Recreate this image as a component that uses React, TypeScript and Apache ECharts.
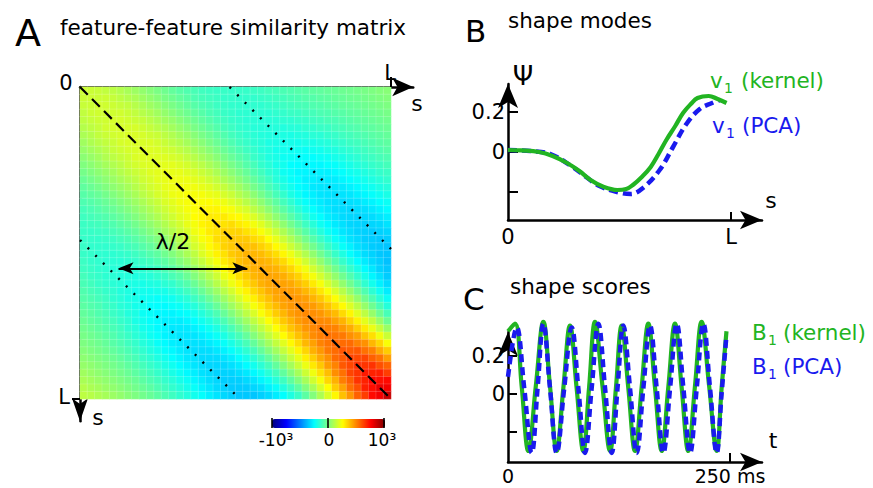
import React, { useEffect, useRef } from 'react';
import * as echarts from 'echarts';

const FONT = 'DejaVu Sans';
const GREEN = '#22b422';
const BLUE = '#1a1aee';

// ---------- Panel A: similarity matrix (42 x 42 cells) ----------
const matrixSize = 42;
const axisCells = 45;
const valueScale = 1000;
// level on the main diagonal, indexed by floor((row + col) / 2)
const diagonalLevel = [
  0.15, 0.15, 0.16, 0.16, 0.17, 0.17, 0.18, 0.18, 0.19, 0.19,
  0.20, 0.21, 0.22, 0.23, 0.24, 0.25, 0.27, 0.29, 0.31, 0.34,
  0.36, 0.38, 0.40, 0.41, 0.42, 0.43, 0.44, 0.45, 0.46, 0.47,
  0.48, 0.49, 0.51, 0.53, 0.55, 0.58, 0.62, 0.66, 0.70, 0.74,
  0.79, 0.86,
];
// relative profile across diagonals, offset (col - row) from -41 to 41
const offsetProfile = [
  0.34, 0.29, 0.24, 0.19, 0.14, 0.09, 0.04, -0.01, -0.06, -0.11,
  -0.17, -0.23, -0.29, -0.35, -0.41, -0.47, -0.53, -0.59, -0.64, -0.68,
  -0.71, -0.73, -0.73, -0.71, -0.67, -0.61, -0.54, -0.45, -0.35, -0.24,
  -0.12, 0.01, 0.14, 0.27, 0.40, 0.53, 0.65, 0.76, 0.85, 0.93, 0.98,
  1.0,
  0.98, 0.93, 0.85, 0.75, 0.63, 0.50, 0.36, 0.22, 0.08, -0.06,
  -0.19, -0.31, -0.42, -0.52, -0.60, -0.66, -0.70, -0.73, -0.74, -0.74,
  -0.72, -0.69, -0.65, -0.60, -0.55, -0.50, -0.45, -0.40, -0.35, -0.31,
  -0.27, -0.23, -0.19, -0.16, -0.13, -0.10, -0.07, -0.04, -0.01, 0.02, 0.05,
];
const colorbarTicks = [-1000, 0, 1000];
const colorbarLabels = ['-10³', '0', '10³'];
const jet = ['#00007f', '#0000ff', '#007fff', '#00ffff', '#7fff7f', '#ffff00', '#ff7f00', '#ff0000', '#7f0000'];

// guide lines in cell units (row counted from the top)
const diagonalLine = [[0, 0], [42, 42]];
const upperBandLine = [[20.2, 0], [42, 21.8]];
const lowerBandLine = [[0, 20.6], [21.6, 42]];
const halfWaveArrow = [[5.2, 24.4], [22.6, 24.4]];

// ---------- Panel B: shape modes ----------
const modeKernelS = [0, 0.06, 0.14, 0.2, 0.265, 0.32, 0.37, 0.43, 0.49, 0.53, 0.56, 0.6, 0.64, 0.675, 0.71, 0.75, 0.785, 0.82, 0.85, 0.9, 0.94, 0.98];
const modeKernelPsi = [0.01, 0.008, 0, -0.02, -0.055, -0.095, -0.14, -0.175, -0.19, -0.185, -0.165, -0.125, -0.075, -0.01, 0.06, 0.13, 0.195, 0.24, 0.27, 0.28, 0.265, 0.245];
const modePcaS = [0, 0.1, 0.19, 0.29, 0.35, 0.41, 0.49, 0.55, 0.605, 0.68, 0.74, 0.8, 0.86, 0.915, 0.95];
const modePcaPsi = [0.01, 0.005, -0.01, -0.075, -0.125, -0.17, -0.2, -0.21, -0.18, -0.09, 0.025, 0.14, 0.215, 0.245, 0.26];

// ---------- Panel C: shape scores ----------
const scoreKernelT = [0, 7.9, 15.4, 22.9, 31.3, 39.8, 47.3, 54.8, 62.3, 69.8, 77.3, 84.8, 91.4, 97.9, 106.4, 114.9, 121.5, 128, 135.5, 143, 150.5, 158, 165.5, 173.1, 180.5, 188, 195.5, 203, 210.5, 218, 226.5, 235, 240.5, 246];
const scoreKernelB = [0.33, 0.37, 0.04, -0.3, 0.04, 0.38, 0.04, -0.3, 0.03, 0.36, 0.03, -0.3, 0.04, 0.38, 0.04, -0.3, 0.03, 0.36, 0.03, -0.3, 0.035, 0.37, 0.035, -0.3, 0.035, 0.37, 0.035, -0.3, 0.04, 0.38, 0.04, -0.3, 0.03, 0.33];
const scorePcaT = [0, 9.8, 18.3, 26.7, 33.3, 39.8, 47.3, 54.8, 63.3, 71.7, 79.2, 86.7, 94.2, 101.7, 109.3, 116.8, 123.3, 129.8, 137.4, 144.9, 152.4, 159.9, 167.4, 174.9, 182.5, 190, 197.5, 205, 212.5, 220, 227.5, 235, 240.5, 246];
const scorePcaB = [0.09, 0.35, 0.03, -0.31, 0.03, 0.37, 0.03, -0.31, 0.03, 0.35, 0.03, -0.31, 0.03, 0.37, 0.03, -0.31, 0.03, 0.36, 0.03, -0.31, 0.03, 0.36, 0.03, -0.31, 0.03, 0.37, 0.03, -0.31, 0.03, 0.37, 0.03, -0.31, 0.0, 0.31];

const zip = (a: number[], b: number[]) => a.map((v, i) => [v, b[i]]);

function buildMatrix() {
  const out: number[][] = [];
  for (let r = 0; r < matrixSize; r++) {
    for (let c = 0; c < matrixSize; c++) {
      const level = diagonalLevel[Math.floor((r + c) / 2)];
      const prof = offsetProfile[c - r + 41];
      // y category counted from the bottom: top row sits at the last category
      out.push([c, axisCells - 1 - r, Math.round(level * prof * valueScale)]);
    }
  }
  return out;
}

const txt = (text: string, x: number, y: number, size: number, fill = '#000', align = 'left') => ({
  type: 'text', x, y, z: 100, silent: true,
  style: { text, fontSize: size, fontFamily: FONT, fill, align, verticalAlign: 'middle' },
});
const seg = (x1: number, y1: number, x2: number, y2: number, w = 2) => ({
  type: 'line', z: 100, silent: true, shape: { x1, y1, x2, y2 }, style: { stroke: '#000', lineWidth: w },
});

export default function App() {
  const ref = useRef<HTMLDivElement>(null);
  useEffect(() => {
    if (!ref.current) return;
    const chart = echarts.init(ref.current, undefined, { renderer: 'svg' });
    const axisLineStyle = { color: '#000', width: 2.5 };
    const cats = Array.from({ length: axisCells }, (_, i) => String(i));
    const labelStyle = { fontSize: 21, fontFamily: FONT, color: '#000' };

    const option: any = {
      animation: false,
      grid: [
        { left: 80, top: 87, width: 7.405 * axisCells, height: 7.43 * axisCells, outerBoundsMode: 'none' },
        { left: 80, top: 87, width: 7.405 * axisCells, height: 7.43 * axisCells, outerBoundsMode: 'none' },
        { left: 508, top: 84, width: 254, height: 136, outerBoundsMode: 'none' },
        { left: 508, top: 332, width: 254, height: 130, outerBoundsMode: 'none' },
      ],
      xAxis: [
        {
          type: 'category', gridIndex: 0, position: 'top', data: cats,
          axisLine: { show: true, onZero: false, symbol: ['none', 'arrow'], symbolSize: [14, 21], lineStyle: axisLineStyle },
          axisTick: { show: false }, axisLabel: { show: false }, splitLine: { show: false },
        },
        { type: 'value', gridIndex: 1, min: 0, max: axisCells, show: false },
        {
          type: 'value', gridIndex: 2, min: 0, max: 1.139,
          axisLine: { show: true, onZero: false, symbol: ['none', 'arrow'], symbolSize: [14, 22], lineStyle: axisLineStyle },
          axisTick: { show: true, inside: true, length: 8, customValues: [1], lineStyle: { color: '#000', width: 2 } },
          axisLabel: { ...labelStyle, margin: 6, customValues: [0, 1], formatter: (v: number) => (v === 0 ? '0' : 'L') },
          splitLine: { show: false },
        },
        {
          type: 'value', gridIndex: 3, min: 0, max: 286,
          axisLine: { show: true, onZero: false, symbol: ['none', 'arrow'], symbolSize: [14, 22], lineStyle: axisLineStyle },
          axisTick: { show: true, inside: true, length: 9, customValues: [250], lineStyle: { color: '#000', width: 2 } },
          axisLabel: { ...labelStyle, fontSize: 19, margin: 4, customValues: [0, 250], formatter: (v: number) => (v === 0 ? '0' : '250 ms') },
          splitLine: { show: false },
        },
      ],
      yAxis: [
        {
          type: 'category', gridIndex: 0, data: cats,
          axisLine: { show: true, onZero: false, symbol: ['arrow', 'none'], symbolSize: [12, 23], lineStyle: axisLineStyle },
          axisTick: { show: false }, axisLabel: { show: false }, splitLine: { show: false },
        },
        { type: 'value', gridIndex: 1, min: 0, max: axisCells, inverse: true, show: false },
        {
          type: 'value', gridIndex: 2, min: -0.34, max: 0.34,
          axisLine: { show: true, onZero: false, symbol: ['none', 'arrow'], symbolSize: [15, 24], lineStyle: axisLineStyle },
          axisTick: { show: true, inside: true, length: 10, customValues: [-0.2, 0, 0.2], lineStyle: { color: '#000', width: 2 } },
          axisLabel: { ...labelStyle, margin: 3, customValues: [0, 0.2], formatter: (v: number) => (Math.abs(v) < 1e-9 ? '0' : '0.2') },
          splitLine: { show: false },
        },
        {
          type: 'value', gridIndex: 3, min: -0.358, max: 0.326,
          axisLine: { show: true, onZero: false, symbol: ['none', 'arrow'], symbolSize: [15, 24], lineStyle: axisLineStyle },
          axisTick: { show: true, inside: true, length: 9, customValues: [-0.2, 0, 0.2], lineStyle: { color: '#000', width: 2 } },
          axisLabel: { ...labelStyle, margin: 3, customValues: [0, 0.2], formatter: (v: number) => (Math.abs(v) < 1e-9 ? '0' : '0.2') },
          splitLine: { show: false },
        },
      ],
      visualMap: {
        type: 'continuous', seriesIndex: 0, min: -valueScale, max: valueScale,
        orient: 'horizontal', left: 272, top: 419, itemWidth: 9, itemHeight: 113, padding: 0,
        calculable: false, realtime: false, text: null, showLabel: false,
        inRange: { color: jet },
      },
      series: [
        {
          type: 'heatmap', xAxisIndex: 0, yAxisIndex: 0, data: buildMatrix(), progressive: 0,
          itemStyle: { borderColor: 'rgba(255,255,255,0.28)', borderWidth: 0.6 },
          emphasis: { disabled: true },
        },
        {
          type: 'line', xAxisIndex: 1, yAxisIndex: 1, data: diagonalLine, symbol: 'none', clip: false,
          lineStyle: { color: '#000', width: 2.2, type: [11, 6] }, z: 5,
        },
        {
          type: 'line', xAxisIndex: 1, yAxisIndex: 1, data: upperBandLine, symbol: 'none', clip: false,
          lineStyle: { color: '#000', width: 2.4, type: [2, 8.8] }, z: 5,
        },
        {
          type: 'line', xAxisIndex: 1, yAxisIndex: 1, data: lowerBandLine, symbol: 'none', clip: false,
          lineStyle: { color: '#000', width: 2.4, type: [2, 8.8] }, z: 5,
        },
        {
          type: 'line', xAxisIndex: 1, yAxisIndex: 1, data: [], symbol: 'none', z: 5,
          markLine: {
            silent: true, symbol: ['arrow', 'arrow'], symbolSize: [9, 15], animation: false,
            label: { show: false }, lineStyle: { color: '#000', width: 2, type: 'solid' },
            data: [[{ coord: halfWaveArrow[0] }, { coord: halfWaveArrow[1] }]],
          },
        },
        {
          type: 'line', xAxisIndex: 2, yAxisIndex: 2, data: zip(modePcaS, modePcaPsi), symbol: 'none', smooth: 0.4, clip: false,
          lineStyle: { color: BLUE, width: 4.5, type: [9, 5] },
        },
        {
          type: 'line', xAxisIndex: 2, yAxisIndex: 2, data: zip(modeKernelS, modeKernelPsi), symbol: 'none', smooth: 0.4, clip: false,
          lineStyle: { color: GREEN, width: 4.2 },
        },
        {
          type: 'line', xAxisIndex: 3, yAxisIndex: 3, data: zip(scoreKernelT, scoreKernelB), symbol: 'none', smooth: 0.4, clip: false,
          lineStyle: { color: GREEN, width: 4.2 },
        },
        {
          type: 'line', xAxisIndex: 3, yAxisIndex: 3, data: zip(scorePcaT, scorePcaB), symbol: 'none', smooth: 0.4, clip: false,
          lineStyle: { color: BLUE, width: 4.5, type: [8, 5] },
        },
      ],
      graphic: [
        txt('A', 15, 33, 38),
        txt('feature-feature similarity matrix', 60, 27, 21.5),
        txt('B', 465, 31, 31),
        txt('shape modes', 508, 20, 21.5),
        txt('C', 463, 298.5, 31),
        txt('shape scores', 510, 286, 21.5),
        txt('0', 66, 83, 21, '#000', 'center'),
        txt('L', 390, 73, 21, '#000', 'center'),
        txt('s', 417, 103, 22, '#000', 'center'),
        txt('L', 64, 397, 21, '#000', 'center'),
        txt('s', 98, 417, 22, '#000', 'center'),
        seg(391, 77, 391, 87),
        seg(72, 399, 80, 399),
        txt('λ/2', 173, 241, 22, '#000', 'center'),
        ...colorbarTicks.map((_, k) => seg(272 + k * 56, 418, 272 + k * 56, 428, 1.6)),
        ...colorbarLabels.map((t, k) => txt(t, 276 + k * 53, 440, 17, '#000', 'center')),
        txt('Ψ', 523, 76, 26, '#000', 'center'),
        txt('s', 771, 200, 22, '#000', 'center'),
        txt('t', 773, 440, 22, '#000', 'center'),
        txt('v', 710, 80, 21.5, GREEN),
        txt('1', 724, 88, 14, GREEN),
        txt('(kernel)', 741, 80, 21.5, GREEN),
        txt('v', 712, 125, 21.5, BLUE),
        txt('1', 726, 133, 14, BLUE),
        txt('(PCA)', 742, 125, 21.5, BLUE),
        txt('B', 752, 332, 21.5, GREEN),
        txt('1', 768, 340, 14, GREEN),
        txt('(kernel)', 783, 332, 21.5, GREEN),
        txt('B', 752, 366, 21.5, BLUE),
        txt('1', 768, 374, 14, BLUE),
        txt('(PCA)', 783, 366, 21.5, BLUE),
      ],
    };
    chart.setOption(option);
    return () => chart.dispose();
  }, []);
  return <div ref={ref} style={{ position: 'absolute', left: 0, top: 0, width: 873, height: 488, background: '#fff' }} />;
}
